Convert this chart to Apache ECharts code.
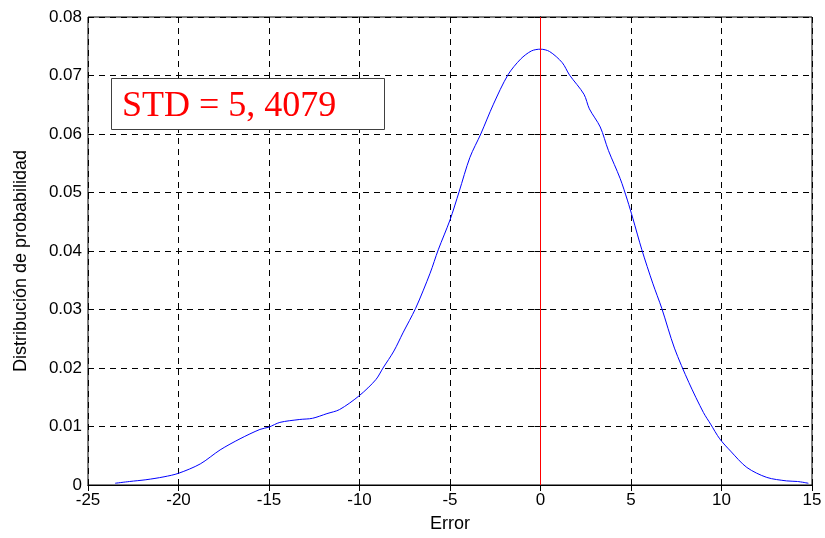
<!DOCTYPE html>
<html>
<head>
<meta charset="utf-8">
<script src="https://cdn.jsdelivr.net/npm/echarts@6/dist/echarts.min.js"></script>
<style>
html,body{margin:0;padding:0;background:#fff;}
#main{width:825px;height:538px;}
</style>
</head>
<body>
<div id="main"></div>
<script>
// error values (x) and probability density (y)
var errorX = [-23.5, -22.7, -21.8, -20.8, -20, -18.8, -17.7, -16.6, -15.5, -15, -14.4, -13.3, -12.6, -11.8, -11.1,
	-10, -9.1, -8.7, -8.1, -7.6, -6.9, -6.1, -5.65, -5.0, -4.5, -3.9, -3.3, -2.6, -1.8, -1.1, -0.5, 0,
	0.5, 1.2, 1.6, 2.4, 2.7, 3.3, 3.75, 4.4, 4.8, 5.1, 5.6, 6.2, 6.7, 7.4, 8.2, 9.0, 9.4, 9.9, 10.5,
	11.4, 12.5, 13.6, 14.2, 14.8];
var probY = [0.0003, 0.0006, 0.0009, 0.0014, 0.0020, 0.0036, 0.0060, 0.0079, 0.0095, 0.0099, 0.0107, 0.0112, 0.0114, 0.0122, 0.0129,
	0.0153, 0.0180, 0.0200, 0.0229, 0.0260, 0.0302, 0.0362, 0.0402, 0.0453, 0.0501, 0.0560, 0.0600, 0.0651, 0.0701, 0.0728, 0.0742, 0.0745,
	0.0741, 0.0722, 0.0701, 0.0668, 0.0643, 0.0612, 0.0572, 0.0524, 0.0487, 0.0456, 0.0402, 0.0345, 0.0302, 0.0234, 0.0175, 0.0124, 0.0104, 0.0079, 0.0058,
	0.0030, 0.0013, 0.0007, 0.0006, 0.0003];
var xTicks = [-25, -20, -15, -10, -5, 0, 5, 10, 15];
var yTicks = [0, 0.01, 0.02, 0.03, 0.04, 0.05, 0.06, 0.07, 0.08];
var stdLabel = 'STD = 5, 4079';

var curve = [];
for (var i = 0; i < errorX.length; i++) {
	curve.push([errorX[i], probY[i]]);
}

var labelFont = {color:'#000', fontFamily:'Liberation Sans, Arial, sans-serif', fontSize:17};
var gridDash = {show:true, lineStyle:{color:'#000', type:[6,5], width:1}};

var myChart = echarts.init(document.getElementById('main'));
myChart.setOption({
	animation:false,
	grid:{left:88, top:17, right:13, bottom:52, show:true, borderColor:'#000', borderWidth:1},
	xAxis:[{
		type:'value', min:xTicks[0], max:xTicks[xTicks.length-1], interval:5,
		name:'Error', nameLocation:'middle', nameGap:30,
		nameTextStyle:{color:'#000', fontFamily:'Liberation Sans, Arial, sans-serif', fontSize:18},
		axisLine:{show:true, lineStyle:{color:'#000'}},
		axisTick:{show:true, inside:true, length:6, lineStyle:{color:'#000'}},
		axisLabel:Object.assign({margin:7}, labelFont),
		splitLine:gridDash
	},{
		type:'value', position:'top', min:xTicks[0], max:xTicks[xTicks.length-1], interval:5,
		axisLine:{show:true, lineStyle:{color:'#000'}},
		axisTick:{show:true, inside:true, length:6, lineStyle:{color:'#000'}},
		axisLabel:{show:false}, splitLine:{show:false}
	}],
	yAxis:[{
		type:'value', min:yTicks[0], max:yTicks[yTicks.length-1], interval:0.01,
		name:'Distribución de probabilidad', nameLocation:'middle', nameGap:58,
		nameTextStyle:{color:'#000', fontFamily:'Liberation Sans, Arial, sans-serif', fontSize:18, padding:[0,20,0,0]},
		axisLine:{show:true, lineStyle:{color:'#000'}},
		axisTick:{show:true, inside:true, length:6, lineStyle:{color:'#000'}},
		axisLabel:Object.assign({margin:6, formatter:function(v){ return v === 0 ? '0' : v.toFixed(2); }}, labelFont),
		splitLine:gridDash
	},{
		type:'value', position:'right', min:yTicks[0], max:yTicks[yTicks.length-1], interval:0.01,
		axisLine:{show:true, lineStyle:{color:'#000'}},
		axisTick:{show:true, inside:true, length:6, lineStyle:{color:'#000'}},
		axisLabel:{show:false}, splitLine:{show:false}
	}],
	series:[{
		type:'line',
		data:curve,
		smooth:0.3,
		showSymbol:false,
		lineStyle:{color:'#0000ff', width:1},
		markLine:{
			silent:true, symbol:'none', label:{show:false},
			lineStyle:{color:'#ff0000', type:'solid', width:1},
			data:[{xAxis:0}]
		}
	}],
	graphic:[{
		type:'rect', left:111, top:78, z:10,
		shape:{width:273, height:51},
		style:{fill:'#fff', stroke:'#404040', lineWidth:1}
	},{
		type:'text', left:122, top:89, z:11,
		style:{text:stdLabel, fill:'#ff0000', font:'36px "Liberation Serif", "Times New Roman", serif'}
	}]
});
</script>
</body>
</html>
